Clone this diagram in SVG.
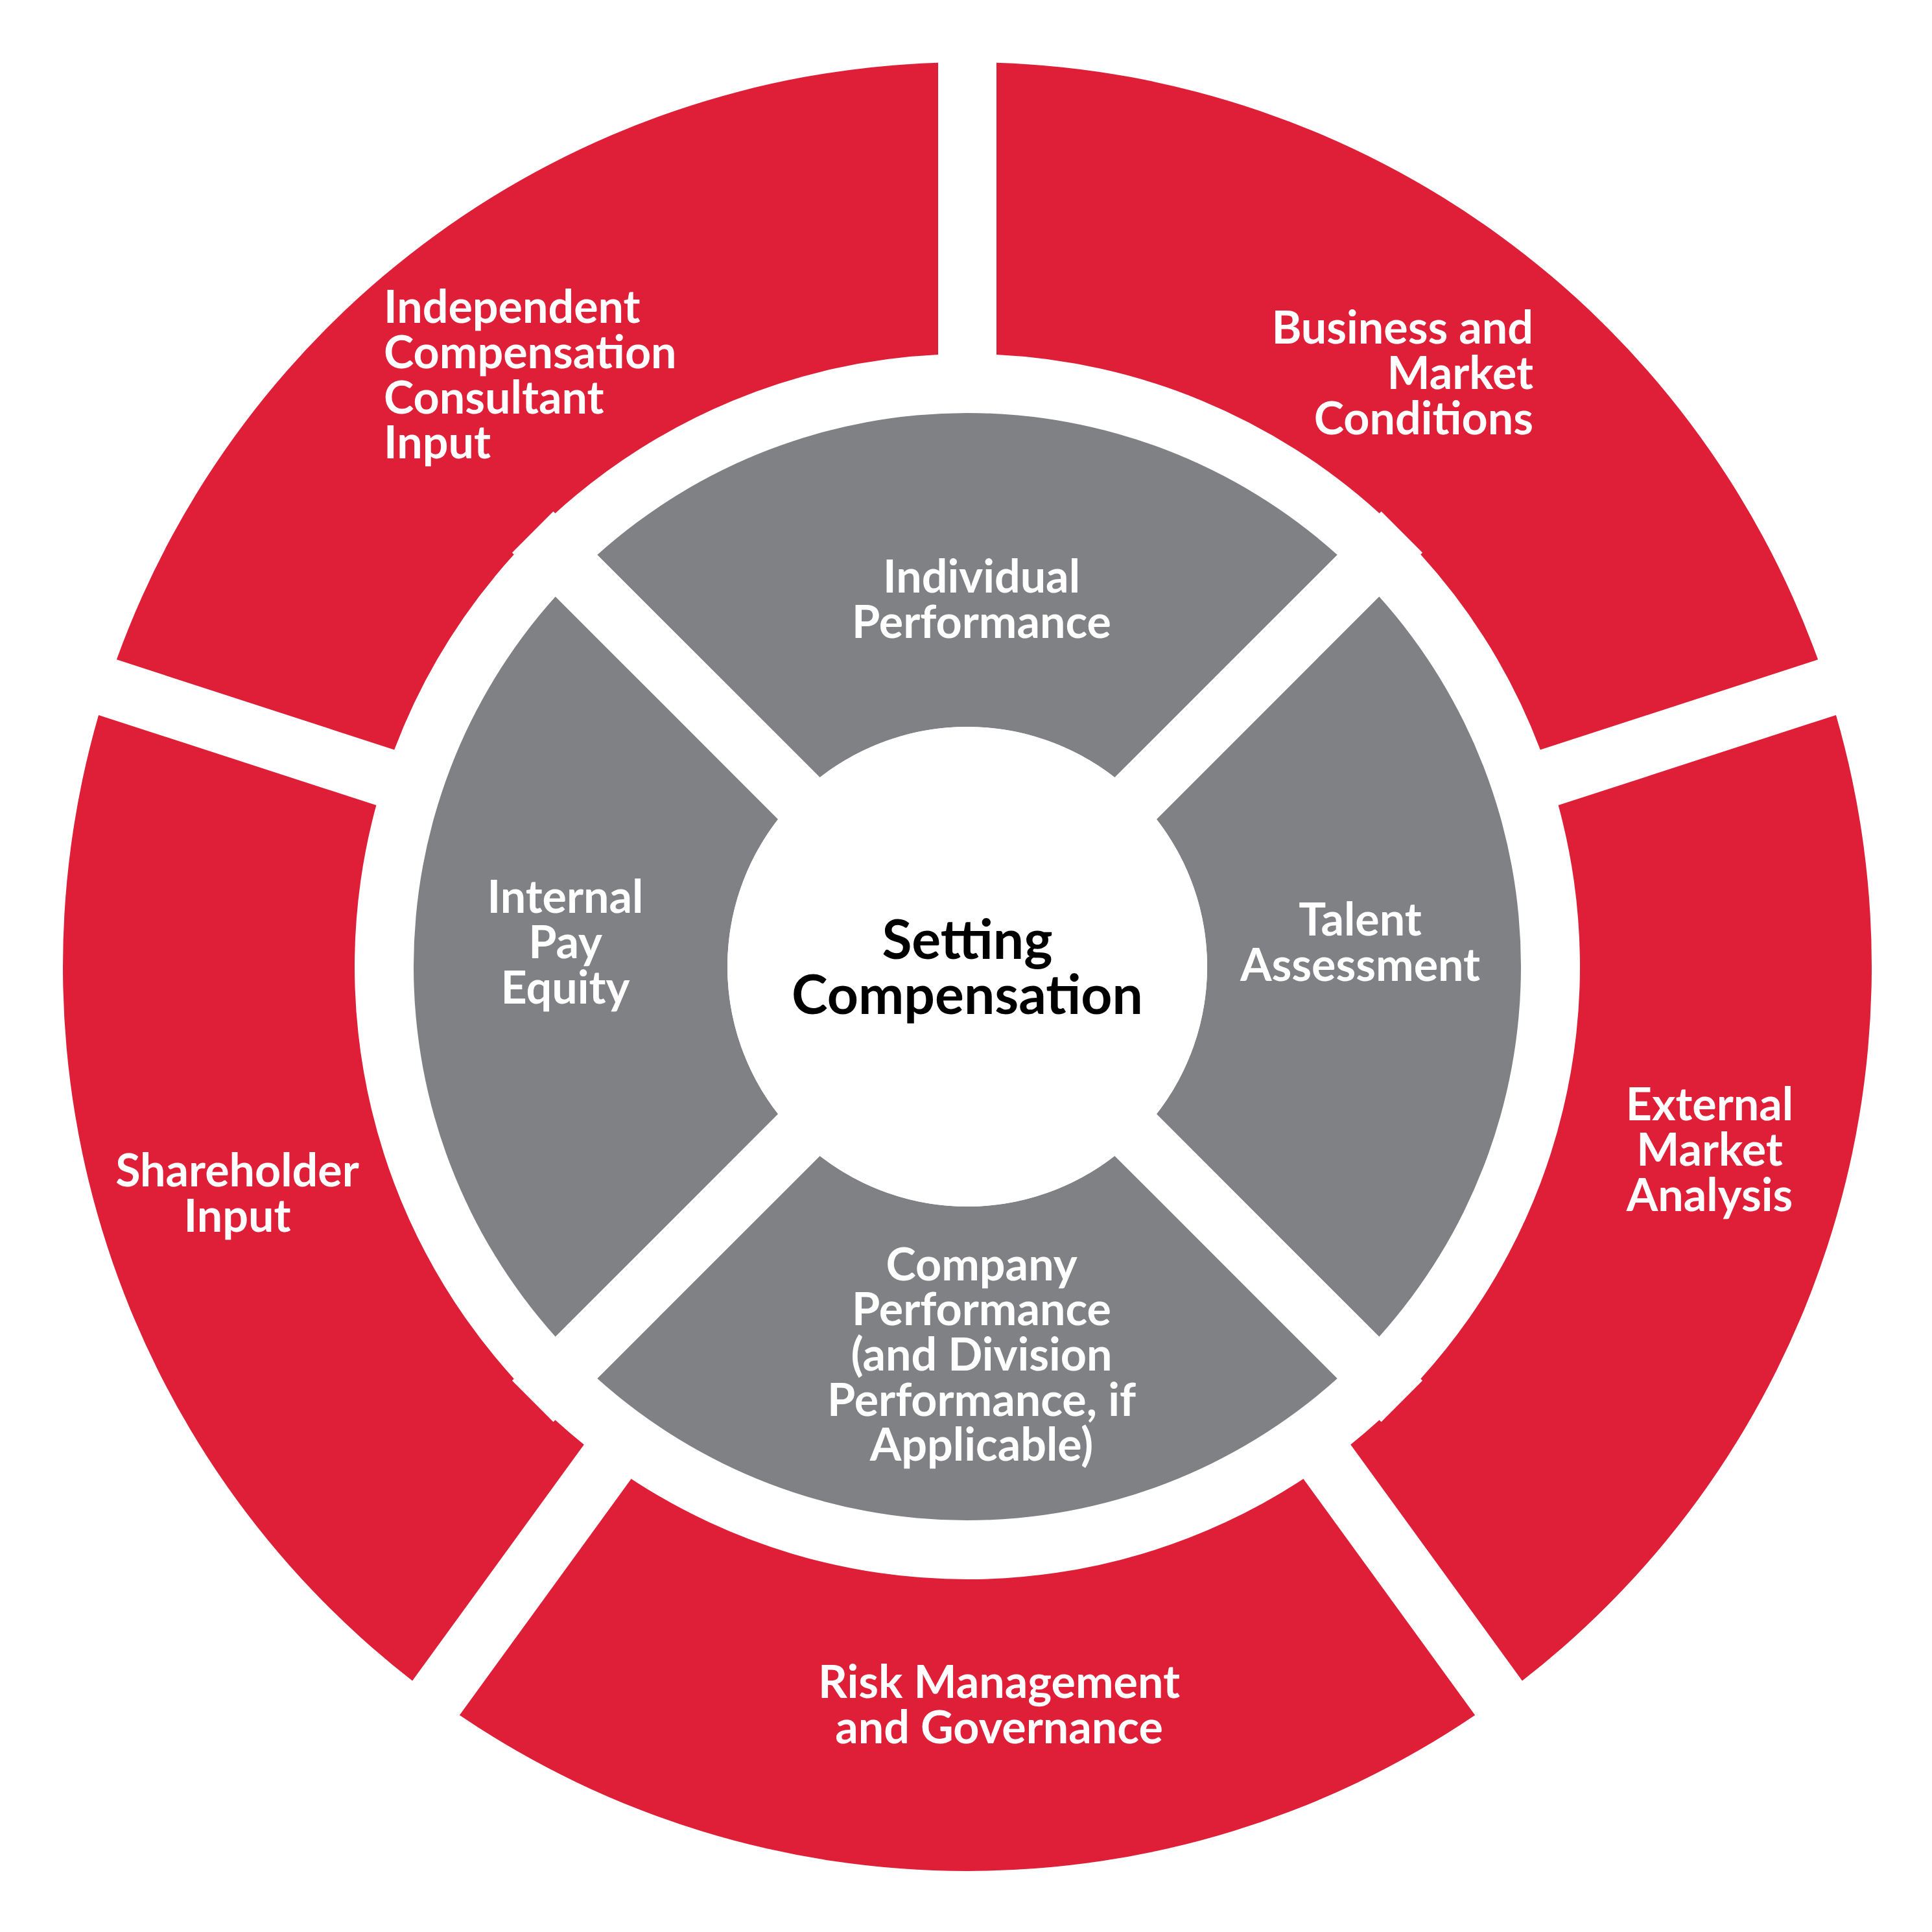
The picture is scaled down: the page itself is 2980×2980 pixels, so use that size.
<svg xmlns="http://www.w3.org/2000/svg" width="2980" height="2980" viewBox="0 0 2980 2980">
<style>
.red{fill:#DF1F38}
.gray{fill:#808185}
.lbl{font-family:Lato,"Open Sans","Liberation Sans",sans-serif;font-weight:700;font-size:70px;fill:#FFFFFF}
.ctr{font-family:Lato,"Open Sans","Liberation Sans",sans-serif;font-weight:700;font-size:84px;fill:#000000;text-anchor:middle}
.mid{text-anchor:middle}
.end{text-anchor:end}
</style>
<rect width="2980" height="2980" fill="#FFFFFF"/>
<g id="outer-ring">
<g id="node-business-market">
<path class="red" d="M1537,96.73 A1395,1395 0 0 1 2804.11,1017.35 L2375.82,1156.50 A945,945 0 0 0 2191.28,855.36 L2194.15,852.49 L2130.51,788.85 L2127.64,791.72 A945,945 0 0 0 1537,547.07 Z"/>
<text class="lbl end"><tspan x="2365" y="530">Business and</tspan><tspan x="2365" y="600">Market</tspan><tspan x="2365" y="670">Conditions</tspan></text>
</g>
<g id="node-external-market">
<path class="red" d="M2831.93,1102.95 A1395,1395 0 0 1 2347.94,2592.52 L2083.24,2228.21 A945,945 0 0 0 2127.64,2190.28 L2130.51,2193.15 L2194.15,2129.51 L2191.28,2126.64 A945,945 0 0 0 2403.64,1242.10 Z"/>
<text class="lbl mid"><tspan x="2637" y="1728">External</tspan><tspan x="2637" y="1798">Market</tspan><tspan x="2637" y="1868">Analysis</tspan></text>
</g>
<g id="node-risk-governance">
<path class="red" d="M2275.12,2645.42 A1395,1395 0 0 1 708.88,2645.42 L973.58,2281.11 A945,945 0 0 0 2010.42,2281.11 Z"/>
<text class="lbl mid"><tspan x="1541" y="2619">Risk Management</tspan><tspan x="1541" y="2689">and Governance</tspan></text>
</g>
<g id="node-shareholder">
<path class="red" d="M636.06,2592.52 A1395,1395 0 0 1 152.07,1102.95 L580.36,1242.10 A945,945 0 0 0 792.72,2126.64 L789.85,2129.51 L853.49,2193.15 L856.36,2190.28 A945,945 0 0 0 900.76,2228.21 Z"/>
<text class="lbl mid"><tspan x="366" y="1830">Shareholder</tspan><tspan x="366" y="1900">Input</tspan></text>
</g>
<g id="node-consultant">
<path class="red" d="M179.89,1017.35 A1395,1395 0 0 1 1447,96.73 L1447,547.07 A945,945 0 0 0 856.36,791.72 L853.49,788.85 L789.85,852.49 L792.72,855.36 A945,945 0 0 0 608.18,1156.50 Z"/>
<text class="lbl"><tspan x="592" y="498">Independent</tspan><tspan x="592" y="568">Compensation</tspan><tspan x="592" y="638">Consultant</tspan><tspan x="592" y="707">Input</tspan></text>
</g>
</g>
<g id="inner-ring">
<g id="node-individual-performance">
<path class="gray" d="M921.31,855.69 A854,854 0 0 1 2062.69,855.69 L1719.32,1199.06 A370,370 0 0 0 1264.68,1199.06 Z"/>
<text class="lbl mid"><tspan x="1514" y="914">Individual</tspan><tspan x="1514" y="984">Performance</tspan></text>
</g>
<g id="node-talent-assessment">
<path class="gray" d="M2127.31,920.31 A854,854 0 0 1 2127.31,2061.69 L1783.94,1718.32 A370,370 0 0 0 1783.94,1263.68 Z"/>
<text class="lbl mid"><tspan x="2098" y="1443">Talent</tspan><tspan x="2098" y="1513">Assessment</tspan></text>
</g>
<g id="node-company-performance">
<path class="gray" d="M2062.69,2126.31 A854,854 0 0 1 921.31,2126.31 L1264.68,1782.94 A370,370 0 0 0 1719.32,1782.94 Z"/>
<text class="lbl mid"><tspan x="1514" y="1975">Company</tspan><tspan x="1514" y="2044">Performance</tspan><tspan x="1514" y="2114">(and Division</tspan><tspan x="1514" y="2184">Performance, if</tspan><tspan x="1514" y="2253">Applicable)</tspan></text>
</g>
<g id="node-internal-pay-equity">
<path class="gray" d="M856.69,2061.69 A854,854 0 0 1 856.69,920.31 L1200.06,1263.68 A370,370 0 0 0 1200.06,1718.32 Z"/>
<text class="lbl mid"><tspan x="872" y="1408">Internal</tspan><tspan x="872" y="1478">Pay</tspan><tspan x="872" y="1548">Equity</tspan></text>
</g>
</g>
<g id="node-setting-compensation">
<circle cx="1492" cy="1491" r="370" fill="#FFFFFF"/>
<text class="ctr"><tspan x="1492" y="1479">Setting</tspan><tspan x="1492" y="1564">Compensation</tspan></text>
</g>
<g id="connectors"/>
</svg>
